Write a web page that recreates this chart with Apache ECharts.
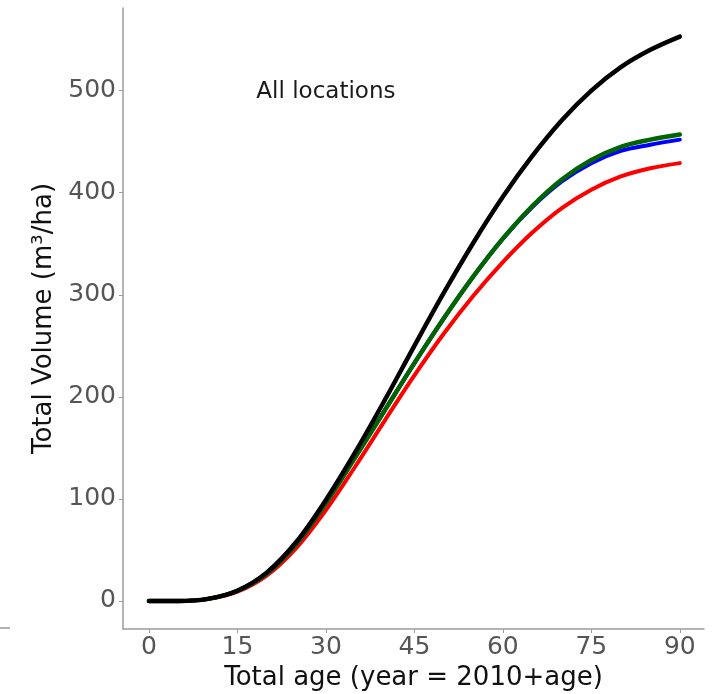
<!DOCTYPE html>
<html>
<head>
<meta charset="utf-8">
<script src="https://cdn.jsdelivr.net/npm/echarts@6/dist/echarts.min.js"></script>
<style>
html, body { margin: 0; padding: 0; background: #fff; }
#chart { width: 718px; height: 694px; }
</style>
</head>
<body>
<div id="chart"></div>
<script>
// stand age (years)
const ages = [0, 5, 10, 15, 20, 25, 30, 35, 40, 45, 50, 55, 60, 65, 70, 75, 80, 85, 90];

// total volume, m3/ha
const redVol   = [0, 0, 2, 9, 25, 52, 89, 132, 177, 221, 262, 299, 332, 361, 385, 403, 416, 424, 429];
const blueVol  = [0, 0, 2, 10, 27, 56, 96, 141, 187, 233, 277, 318, 355, 386, 411, 429, 441, 447, 452];
const greenVol = [0, 0, 2, 10, 27, 56, 96, 141, 187, 233, 277, 318, 355, 387, 413, 432, 445, 452, 457];
const blackVol = [0, 0, 2, 10, 28, 58, 99, 146, 197, 250, 302, 351, 396, 436, 471, 500, 523, 540, 553];

const xTicks = [0, 15, 30, 45, 60, 75, 90];
const yTicks = [0, 100, 200, 300, 400, 500];

const noteText = 'All locations';
const noteAt = [30, 499];

function pairs(vals) {
    let out = [];
    for (let i = 0; i < ages.length; i++) {
        out.push([ages[i], vals[i]]);
    }
    return out;
}

function line(name, vals, color, width) {
    return {
        name: name,
        type: 'line',
        data: pairs(vals),
        smooth: 0.35,
        showSymbol: false,
        symbol: 'none',
        lineStyle: { color: color, width: width, cap: 'round' },
        silent: true
    };
}

const font = '"DejaVu Sans", "Liberation Sans", sans-serif';
const axisGrey = '#9c9c9c';

const chart = echarts.init(document.getElementById('chart'));
chart.setOption({
    animation: false,
    backgroundColor: '#fff',
    grid: { left: 123, right: 14, top: 8, bottom: 65, containLabel: false, outerBoundsMode: 'none' },
    xAxis: {
        type: 'value',
        min: -4.4,
        max: 94.1,
        name: 'Total age (year = 2010+age)',
        nameLocation: 'middle',
        nameGap: 30,
        nameTextStyle: { color: '#111', fontSize: 26, fontFamily: font },
        axisLine: { show: true, onZero: false, lineStyle: { color: axisGrey, width: 1.5 } },
        axisTick: { show: true, length: 4, customValues: xTicks, lineStyle: { color: axisGrey } },
        axisLabel: { customValues: xTicks, color: '#555', fontSize: 25, fontFamily: font, margin: 6 },
        splitLine: { show: false }
    },
    yAxis: {
        type: 'value',
        min: -27.5,
        max: 581,
        name: 'Total Volume (m³/ha)',
        nameLocation: 'middle',
        nameGap: 66,
        nameTextStyle: { color: '#111', fontSize: 26, fontFamily: font },
        axisLine: { show: true, onZero: false, lineStyle: { color: axisGrey, width: 1.5 } },
        axisTick: { show: true, length: 4, customValues: yTicks, lineStyle: { color: axisGrey } },
        axisLabel: { customValues: yTicks, color: '#555', fontSize: 25, fontFamily: font, margin: 7 },
        splitLine: { show: false }
    },
    series: [
        line('red', redVol, '#ff0000', 4),
        line('blue', blueVol, '#0000ff', 4),
        line('green', greenVol, '#006400', 4.5),
        line('black', blackVol, '#000000', 4.5)
    ]
});

const p = chart.convertToPixel({ gridIndex: 0 }, noteAt);
chart.setOption({
    graphic: [
        {
            type: 'text',
            x: p[0],
            y: p[1],
            style: {
                text: noteText,
                fill: '#1a1a1a',
                font: '23px ' + font,
                align: 'center',
                verticalAlign: 'middle'
            }
        },
        {
            // piece of the neighbouring panel's axis at the left edge
            type: 'line',
            shape: { x1: 0, y1: 628, x2: 10, y2: 628 },
            style: { stroke: axisGrey, lineWidth: 1.5 }
        }
    ]
});
</script>
</body>
</html>
